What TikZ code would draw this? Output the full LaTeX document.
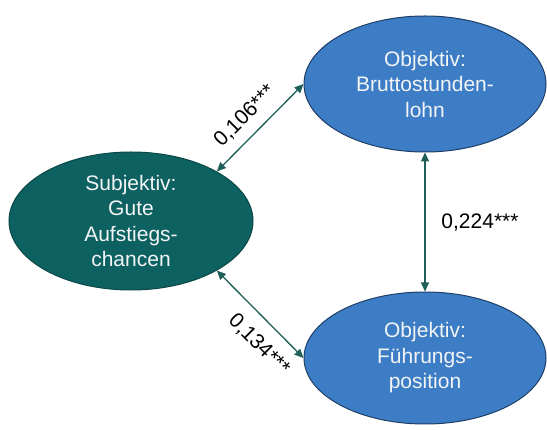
\documentclass[tikz,border=0pt]{standalone}
\usepackage{fontspec}
\setmainfont{Liberation Sans}
\usetikzlibrary{shapes.geometric,arrows.meta}
\definecolor{tealfill}{HTML}{0E6161}
\definecolor{tealline}{HTML}{0B4747}
\definecolor{bluefill}{HTML}{3C7DC6}
\definecolor{blueline}{HTML}{1F3F66}
\definecolor{arrowcol}{HTML}{1E5F5A}
\definecolor{lighttext}{HTML}{F2F4F6}
\begin{document}
\begin{tikzpicture}[x=1pt,y=-1pt,
  every node/.style={font=\fontsize{21}{25.5}\selectfont},
  bubble/.style={ellipse, inner sep=0pt, align=center, text=lighttext, line width=1pt},
  subj/.style={bubble, fill=tealfill, draw=tealline, minimum width=244pt, minimum height=138pt},
  obj/.style={bubble, fill=bluefill, draw=blueline, minimum width=242pt, minimum height=136pt},
  link/.style={draw=arrowcol, line width=1.3pt, {Triangle[length=9pt,width=8pt]}-{Triangle[length=9pt,width=8pt]}},
  coef/.style={text=black, inner sep=0pt}
]
\fill[white] (0,0) rectangle (547,430);
\node[subj] (L) at (131,221) {Subjektiv:\\Gute\\Aufstiegs-\\chancen};
\node[obj] (T) at (425,84) {Objektiv:\\Bruttostunden-\\lohn};
\node[obj, minimum height=132pt] (B) at (425,358) {Objektiv:\\Führungs-\\position};
\draw[link] (L.30) -- (T.west);
\draw[link] (L.-30) -- (B.west);
\draw[link] (T.south) -- (B.north);
\node[coef, rotate=45] (c1) at (245,116) {0,106***};
\node[coef, rotate=-45] (c2) at (259,345) {0,134***};
\node[coef] (c3) at (480,223) {0,224***};
\end{tikzpicture}
\end{document}
